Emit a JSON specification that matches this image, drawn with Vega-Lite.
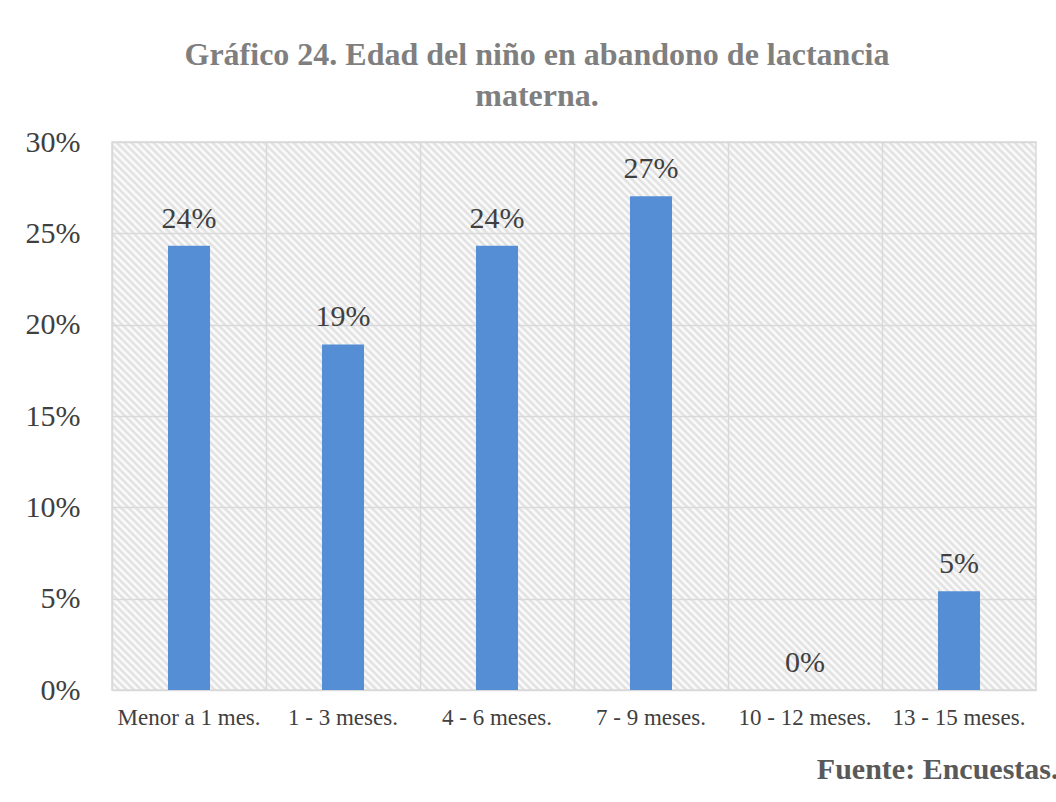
{
  "$schema": "https://vega.github.io/schema/vega-lite/v6.json",
  "width": 924,
  "height": 548,
  "autosize": {"type": "none"},
  "padding": {"left": 112, "top": 142, "right": 20, "bottom": 112},
  "background": "white",
  "title": {
    "text": ["Gráfico 24. Edad del niño en abandono de lactancia", "materna."],
    "font": "Liberation Serif",
    "fontSize": 32,
    "fontWeight": "bold",
    "color": "#7f7f7f",
    "anchor": "middle",
    "dx": -37,
    "lineHeight": 41,
    "offset": 14
  },
  "data": {
    "values": [
      {"edad": "Menor a 1 mes.", "pct": 0.2432},
      {"edad": "1 - 3 meses.", "pct": 0.1892},
      {"edad": "4 - 6 meses.", "pct": 0.2432},
      {"edad": "7 - 9 meses.", "pct": 0.2703},
      {"edad": "10 - 12 meses.", "pct": 0.0},
      {"edad": "13 - 15 meses.", "pct": 0.0541}
    ]
  },
  "encoding": {
    "x": {
      "field": "edad",
      "type": "nominal",
      "sort": null,
      "scale": {"paddingInner": 0, "paddingOuter": 0},
      "axis": {
        "title": "Fuente: Encuestas.",
        "titleFont": "Liberation Serif",
        "titleFontSize": 30,
        "titleFontWeight": "bold",
        "titleColor": "#595959",
        "titleAnchor": "end",
        "titleAlign": "right",
        "titleBaseline": "alphabetic",
        "titleX": 946,
        "titleY": 88,
        "labelFont": "Liberation Serif",
        "labelFontSize": 23,
        "labelColor": "#404040",
        "labelAngle": 0,
        "labelPadding": 16,
        "ticks": false,
        "domain": false,
        "grid": true,
        "bandPosition": 0,
        "gridColor": "#d9d9d9",
        "gridWidth": 1.5
      }
    },
    "y": {
      "field": "pct",
      "type": "quantitative",
      "scale": {"domain": [0, 0.3], "nice": false},
      "axis": {
        "title": null,
        "values": [0, 0.05, 0.1, 0.15, 0.2, 0.25, 0.3],
        "format": ".0%",
        "labelFont": "Liberation Serif",
        "labelFontSize": 30,
        "labelColor": "#404040",
        "labelPadding": 32,
        "ticks": false,
        "domain": false,
        "grid": true,
        "gridColor": "#d9d9d9",
        "gridWidth": 1.5
      }
    }
  },
  "layer": [
    {
      "mark": {"type": "bar", "color": "#558ED5", "width": {"band": 0.273}}
    },
    {
      "mark": {
        "type": "text",
        "baseline": "alphabetic",
        "dy": -18,
        "font": "Liberation Serif",
        "fontSize": 30,
        "color": "#404040"
      },
      "encoding": {
        "text": {"field": "pct", "type": "quantitative", "format": ".0%"}
      }
    }
  ],
  "config": {
    "view": {
      "stroke": "#d9d9d9",
      "strokeWidth": 1.5,
      "fill": {
        "gradient": "linear",
        "x1": 0, "y1": 1, "x2": 1.1787, "y2": 0.301,
        "stops": [
{"offset":0,"color":"#ddd"},{"offset":0.0025,"color":"#fff"},{"offset":0.005,"color":"#ddd"},{"offset":0.0075,"color":"#fff"},
{"offset":0.01,"color":"#ddd"},{"offset":0.0125,"color":"#fff"},{"offset":0.015,"color":"#ddd"},{"offset":0.0175,"color":"#fff"},
{"offset":0.02,"color":"#ddd"},{"offset":0.0225,"color":"#fff"},{"offset":0.025,"color":"#ddd"},{"offset":0.0275,"color":"#fff"},
{"offset":0.03,"color":"#ddd"},{"offset":0.0325,"color":"#fff"},{"offset":0.035,"color":"#ddd"},{"offset":0.0375,"color":"#fff"},
{"offset":0.04,"color":"#ddd"},{"offset":0.0425,"color":"#fff"},{"offset":0.045,"color":"#ddd"},{"offset":0.0475,"color":"#fff"},
{"offset":0.05,"color":"#ddd"},{"offset":0.0525,"color":"#fff"},{"offset":0.055,"color":"#ddd"},{"offset":0.0575,"color":"#fff"},
{"offset":0.06,"color":"#ddd"},{"offset":0.0625,"color":"#fff"},{"offset":0.065,"color":"#ddd"},{"offset":0.0675,"color":"#fff"},
{"offset":0.07,"color":"#ddd"},{"offset":0.0725,"color":"#fff"},{"offset":0.075,"color":"#ddd"},{"offset":0.0775,"color":"#fff"},
{"offset":0.08,"color":"#ddd"},{"offset":0.0825,"color":"#fff"},{"offset":0.085,"color":"#ddd"},{"offset":0.0875,"color":"#fff"},
{"offset":0.09,"color":"#ddd"},{"offset":0.0925,"color":"#fff"},{"offset":0.095,"color":"#ddd"},{"offset":0.0975,"color":"#fff"},
{"offset":0.10,"color":"#ddd"},{"offset":0.1025,"color":"#fff"},{"offset":0.105,"color":"#ddd"},{"offset":0.1075,"color":"#fff"},
{"offset":0.11,"color":"#ddd"},{"offset":0.1125,"color":"#fff"},{"offset":0.115,"color":"#ddd"},{"offset":0.1175,"color":"#fff"},
{"offset":0.12,"color":"#ddd"},{"offset":0.1225,"color":"#fff"},{"offset":0.125,"color":"#ddd"},{"offset":0.1275,"color":"#fff"},
{"offset":0.13,"color":"#ddd"},{"offset":0.1325,"color":"#fff"},{"offset":0.135,"color":"#ddd"},{"offset":0.1375,"color":"#fff"},
{"offset":0.14,"color":"#ddd"},{"offset":0.1425,"color":"#fff"},{"offset":0.145,"color":"#ddd"},{"offset":0.1475,"color":"#fff"},
{"offset":0.15,"color":"#ddd"},{"offset":0.1525,"color":"#fff"},{"offset":0.155,"color":"#ddd"},{"offset":0.1575,"color":"#fff"},
{"offset":0.16,"color":"#ddd"},{"offset":0.1625,"color":"#fff"},{"offset":0.165,"color":"#ddd"},{"offset":0.1675,"color":"#fff"},
{"offset":0.17,"color":"#ddd"},{"offset":0.1725,"color":"#fff"},{"offset":0.175,"color":"#ddd"},{"offset":0.1775,"color":"#fff"},
{"offset":0.18,"color":"#ddd"},{"offset":0.1825,"color":"#fff"},{"offset":0.185,"color":"#ddd"},{"offset":0.1875,"color":"#fff"},
{"offset":0.19,"color":"#ddd"},{"offset":0.1925,"color":"#fff"},{"offset":0.195,"color":"#ddd"},{"offset":0.1975,"color":"#fff"},
{"offset":0.20,"color":"#ddd"},{"offset":0.2025,"color":"#fff"},{"offset":0.205,"color":"#ddd"},{"offset":0.2075,"color":"#fff"},
{"offset":0.21,"color":"#ddd"},{"offset":0.2125,"color":"#fff"},{"offset":0.215,"color":"#ddd"},{"offset":0.2175,"color":"#fff"},
{"offset":0.22,"color":"#ddd"},{"offset":0.2225,"color":"#fff"},{"offset":0.225,"color":"#ddd"},{"offset":0.2275,"color":"#fff"},
{"offset":0.23,"color":"#ddd"},{"offset":0.2325,"color":"#fff"},{"offset":0.235,"color":"#ddd"},{"offset":0.2375,"color":"#fff"},
{"offset":0.24,"color":"#ddd"},{"offset":0.2425,"color":"#fff"},{"offset":0.245,"color":"#ddd"},{"offset":0.2475,"color":"#fff"},
{"offset":0.25,"color":"#ddd"},{"offset":0.2525,"color":"#fff"},{"offset":0.255,"color":"#ddd"},{"offset":0.2575,"color":"#fff"},
{"offset":0.26,"color":"#ddd"},{"offset":0.2625,"color":"#fff"},{"offset":0.265,"color":"#ddd"},{"offset":0.2675,"color":"#fff"},
{"offset":0.27,"color":"#ddd"},{"offset":0.2725,"color":"#fff"},{"offset":0.275,"color":"#ddd"},{"offset":0.2775,"color":"#fff"},
{"offset":0.28,"color":"#ddd"},{"offset":0.2825,"color":"#fff"},{"offset":0.285,"color":"#ddd"},{"offset":0.2875,"color":"#fff"},
{"offset":0.29,"color":"#ddd"},{"offset":0.2925,"color":"#fff"},{"offset":0.295,"color":"#ddd"},{"offset":0.2975,"color":"#fff"},
{"offset":0.30,"color":"#ddd"},{"offset":0.3025,"color":"#fff"},{"offset":0.305,"color":"#ddd"},{"offset":0.3075,"color":"#fff"},
{"offset":0.31,"color":"#ddd"},{"offset":0.3125,"color":"#fff"},{"offset":0.315,"color":"#ddd"},{"offset":0.3175,"color":"#fff"},
{"offset":0.32,"color":"#ddd"},{"offset":0.3225,"color":"#fff"},{"offset":0.325,"color":"#ddd"},{"offset":0.3275,"color":"#fff"},
{"offset":0.33,"color":"#ddd"},{"offset":0.3325,"color":"#fff"},{"offset":0.335,"color":"#ddd"},{"offset":0.3375,"color":"#fff"},
{"offset":0.34,"color":"#ddd"},{"offset":0.3425,"color":"#fff"},{"offset":0.345,"color":"#ddd"},{"offset":0.3475,"color":"#fff"},
{"offset":0.35,"color":"#ddd"},{"offset":0.3525,"color":"#fff"},{"offset":0.355,"color":"#ddd"},{"offset":0.3575,"color":"#fff"},
{"offset":0.36,"color":"#ddd"},{"offset":0.3625,"color":"#fff"},{"offset":0.365,"color":"#ddd"},{"offset":0.3675,"color":"#fff"},
{"offset":0.37,"color":"#ddd"},{"offset":0.3725,"color":"#fff"},{"offset":0.375,"color":"#ddd"},{"offset":0.3775,"color":"#fff"},
{"offset":0.38,"color":"#ddd"},{"offset":0.3825,"color":"#fff"},{"offset":0.385,"color":"#ddd"},{"offset":0.3875,"color":"#fff"},
{"offset":0.39,"color":"#ddd"},{"offset":0.3925,"color":"#fff"},{"offset":0.395,"color":"#ddd"},{"offset":0.3975,"color":"#fff"},
{"offset":0.40,"color":"#ddd"},{"offset":0.4025,"color":"#fff"},{"offset":0.405,"color":"#ddd"},{"offset":0.4075,"color":"#fff"},
{"offset":0.41,"color":"#ddd"},{"offset":0.4125,"color":"#fff"},{"offset":0.415,"color":"#ddd"},{"offset":0.4175,"color":"#fff"},
{"offset":0.42,"color":"#ddd"},{"offset":0.4225,"color":"#fff"},{"offset":0.425,"color":"#ddd"},{"offset":0.4275,"color":"#fff"},
{"offset":0.43,"color":"#ddd"},{"offset":0.4325,"color":"#fff"},{"offset":0.435,"color":"#ddd"},{"offset":0.4375,"color":"#fff"},
{"offset":0.44,"color":"#ddd"},{"offset":0.4425,"color":"#fff"},{"offset":0.445,"color":"#ddd"},{"offset":0.4475,"color":"#fff"},
{"offset":0.45,"color":"#ddd"},{"offset":0.4525,"color":"#fff"},{"offset":0.455,"color":"#ddd"},{"offset":0.4575,"color":"#fff"},
{"offset":0.46,"color":"#ddd"},{"offset":0.4625,"color":"#fff"},{"offset":0.465,"color":"#ddd"},{"offset":0.4675,"color":"#fff"},
{"offset":0.47,"color":"#ddd"},{"offset":0.4725,"color":"#fff"},{"offset":0.475,"color":"#ddd"},{"offset":0.4775,"color":"#fff"},
{"offset":0.48,"color":"#ddd"},{"offset":0.4825,"color":"#fff"},{"offset":0.485,"color":"#ddd"},{"offset":0.4875,"color":"#fff"},
{"offset":0.49,"color":"#ddd"},{"offset":0.4925,"color":"#fff"},{"offset":0.495,"color":"#ddd"},{"offset":0.4975,"color":"#fff"},
{"offset":0.50,"color":"#ddd"},{"offset":0.5025,"color":"#fff"},{"offset":0.505,"color":"#ddd"},{"offset":0.5075,"color":"#fff"},
{"offset":0.51,"color":"#ddd"},{"offset":0.5125,"color":"#fff"},{"offset":0.515,"color":"#ddd"},{"offset":0.5175,"color":"#fff"},
{"offset":0.52,"color":"#ddd"},{"offset":0.5225,"color":"#fff"},{"offset":0.525,"color":"#ddd"},{"offset":0.5275,"color":"#fff"},
{"offset":0.53,"color":"#ddd"},{"offset":0.5325,"color":"#fff"},{"offset":0.535,"color":"#ddd"},{"offset":0.5375,"color":"#fff"},
{"offset":0.54,"color":"#ddd"},{"offset":0.5425,"color":"#fff"},{"offset":0.545,"color":"#ddd"},{"offset":0.5475,"color":"#fff"},
{"offset":0.55,"color":"#ddd"},{"offset":0.5525,"color":"#fff"},{"offset":0.555,"color":"#ddd"},{"offset":0.5575,"color":"#fff"},
{"offset":0.56,"color":"#ddd"},{"offset":0.5625,"color":"#fff"},{"offset":0.565,"color":"#ddd"},{"offset":0.5675,"color":"#fff"},
{"offset":0.57,"color":"#ddd"},{"offset":0.5725,"color":"#fff"},{"offset":0.575,"color":"#ddd"},{"offset":0.5775,"color":"#fff"},
{"offset":0.58,"color":"#ddd"},{"offset":0.5825,"color":"#fff"},{"offset":0.585,"color":"#ddd"},{"offset":0.5875,"color":"#fff"},
{"offset":0.59,"color":"#ddd"},{"offset":0.5925,"color":"#fff"},{"offset":0.595,"color":"#ddd"},{"offset":0.5975,"color":"#fff"},
{"offset":0.60,"color":"#ddd"},{"offset":0.6025,"color":"#fff"},{"offset":0.605,"color":"#ddd"},{"offset":0.6075,"color":"#fff"},
{"offset":0.61,"color":"#ddd"},{"offset":0.6125,"color":"#fff"},{"offset":0.615,"color":"#ddd"},{"offset":0.6175,"color":"#fff"},
{"offset":0.62,"color":"#ddd"},{"offset":0.6225,"color":"#fff"},{"offset":0.625,"color":"#ddd"},{"offset":0.6275,"color":"#fff"},
{"offset":0.63,"color":"#ddd"},{"offset":0.6325,"color":"#fff"},{"offset":0.635,"color":"#ddd"},{"offset":0.6375,"color":"#fff"},
{"offset":0.64,"color":"#ddd"},{"offset":0.6425,"color":"#fff"},{"offset":0.645,"color":"#ddd"},{"offset":0.6475,"color":"#fff"},
{"offset":0.65,"color":"#ddd"},{"offset":0.6525,"color":"#fff"},{"offset":0.655,"color":"#ddd"},{"offset":0.6575,"color":"#fff"},
{"offset":0.66,"color":"#ddd"},{"offset":0.6625,"color":"#fff"},{"offset":0.665,"color":"#ddd"},{"offset":0.6675,"color":"#fff"},
{"offset":0.67,"color":"#ddd"},{"offset":0.6725,"color":"#fff"},{"offset":0.675,"color":"#ddd"},{"offset":0.6775,"color":"#fff"},
{"offset":0.68,"color":"#ddd"},{"offset":0.6825,"color":"#fff"},{"offset":0.685,"color":"#ddd"},{"offset":0.6875,"color":"#fff"},
{"offset":0.69,"color":"#ddd"},{"offset":0.6925,"color":"#fff"},{"offset":0.695,"color":"#ddd"},{"offset":0.6975,"color":"#fff"},
{"offset":0.70,"color":"#ddd"},{"offset":0.7025,"color":"#fff"},{"offset":0.705,"color":"#ddd"},{"offset":0.7075,"color":"#fff"},
{"offset":0.71,"color":"#ddd"},{"offset":0.7125,"color":"#fff"},{"offset":0.715,"color":"#ddd"},{"offset":0.7175,"color":"#fff"},
{"offset":0.72,"color":"#ddd"},{"offset":0.7225,"color":"#fff"},{"offset":0.725,"color":"#ddd"},{"offset":0.7275,"color":"#fff"},
{"offset":0.73,"color":"#ddd"},{"offset":0.7325,"color":"#fff"},{"offset":0.735,"color":"#ddd"},{"offset":0.7375,"color":"#fff"},
{"offset":0.74,"color":"#ddd"},{"offset":0.7425,"color":"#fff"},{"offset":0.745,"color":"#ddd"},{"offset":0.7475,"color":"#fff"},
{"offset":0.75,"color":"#ddd"},{"offset":0.7525,"color":"#fff"},{"offset":0.755,"color":"#ddd"},{"offset":0.7575,"color":"#fff"},
{"offset":0.76,"color":"#ddd"},{"offset":0.7625,"color":"#fff"},{"offset":0.765,"color":"#ddd"},{"offset":0.7675,"color":"#fff"},
{"offset":0.77,"color":"#ddd"},{"offset":0.7725,"color":"#fff"},{"offset":0.775,"color":"#ddd"},{"offset":0.7775,"color":"#fff"},
{"offset":0.78,"color":"#ddd"},{"offset":0.7825,"color":"#fff"},{"offset":0.785,"color":"#ddd"},{"offset":0.7875,"color":"#fff"},
{"offset":0.79,"color":"#ddd"},{"offset":0.7925,"color":"#fff"},{"offset":0.795,"color":"#ddd"},{"offset":0.7975,"color":"#fff"},
{"offset":0.80,"color":"#ddd"},{"offset":0.8025,"color":"#fff"},{"offset":0.805,"color":"#ddd"},{"offset":0.8075,"color":"#fff"},
{"offset":0.81,"color":"#ddd"},{"offset":0.8125,"color":"#fff"},{"offset":0.815,"color":"#ddd"},{"offset":0.8175,"color":"#fff"},
{"offset":0.82,"color":"#ddd"},{"offset":0.8225,"color":"#fff"},{"offset":0.825,"color":"#ddd"},{"offset":0.8275,"color":"#fff"},
{"offset":0.83,"color":"#ddd"},{"offset":0.8325,"color":"#fff"},{"offset":0.835,"color":"#ddd"},{"offset":0.8375,"color":"#fff"},
{"offset":0.84,"color":"#ddd"},{"offset":0.8425,"color":"#fff"},{"offset":0.845,"color":"#ddd"},{"offset":0.8475,"color":"#fff"},
{"offset":0.85,"color":"#ddd"},{"offset":0.8525,"color":"#fff"},{"offset":0.855,"color":"#ddd"},{"offset":0.8575,"color":"#fff"},
{"offset":0.86,"color":"#ddd"},{"offset":0.8625,"color":"#fff"},{"offset":0.865,"color":"#ddd"},{"offset":0.8675,"color":"#fff"},
{"offset":0.87,"color":"#ddd"},{"offset":0.8725,"color":"#fff"},{"offset":0.875,"color":"#ddd"},{"offset":0.8775,"color":"#fff"},
{"offset":0.88,"color":"#ddd"},{"offset":0.8825,"color":"#fff"},{"offset":0.885,"color":"#ddd"},{"offset":0.8875,"color":"#fff"},
{"offset":0.89,"color":"#ddd"},{"offset":0.8925,"color":"#fff"},{"offset":0.895,"color":"#ddd"},{"offset":0.8975,"color":"#fff"},
{"offset":0.90,"color":"#ddd"},{"offset":0.9025,"color":"#fff"},{"offset":0.905,"color":"#ddd"},{"offset":0.9075,"color":"#fff"},
{"offset":0.91,"color":"#ddd"},{"offset":0.9125,"color":"#fff"},{"offset":0.915,"color":"#ddd"},{"offset":0.9175,"color":"#fff"},
{"offset":0.92,"color":"#ddd"},{"offset":0.9225,"color":"#fff"},{"offset":0.925,"color":"#ddd"},{"offset":0.9275,"color":"#fff"},
{"offset":0.93,"color":"#ddd"},{"offset":0.9325,"color":"#fff"},{"offset":0.935,"color":"#ddd"},{"offset":0.9375,"color":"#fff"},
{"offset":0.94,"color":"#ddd"},{"offset":0.9425,"color":"#fff"},{"offset":0.945,"color":"#ddd"},{"offset":0.9475,"color":"#fff"},
{"offset":0.95,"color":"#ddd"},{"offset":0.9525,"color":"#fff"},{"offset":0.955,"color":"#ddd"},{"offset":0.9575,"color":"#fff"},
{"offset":0.96,"color":"#ddd"},{"offset":0.9625,"color":"#fff"},{"offset":0.965,"color":"#ddd"},{"offset":0.9675,"color":"#fff"},
{"offset":0.97,"color":"#ddd"},{"offset":0.9725,"color":"#fff"},{"offset":0.975,"color":"#ddd"},{"offset":0.9775,"color":"#fff"},
{"offset":0.98,"color":"#ddd"},{"offset":0.9825,"color":"#fff"},{"offset":0.985,"color":"#ddd"},{"offset":0.9875,"color":"#fff"},
{"offset":0.99,"color":"#ddd"},{"offset":0.9925,"color":"#fff"},{"offset":0.995,"color":"#ddd"},{"offset":0.9975,"color":"#fff"},
{"offset":1,"color":"#ddd"}
        ]
      }
    }
  }
}
